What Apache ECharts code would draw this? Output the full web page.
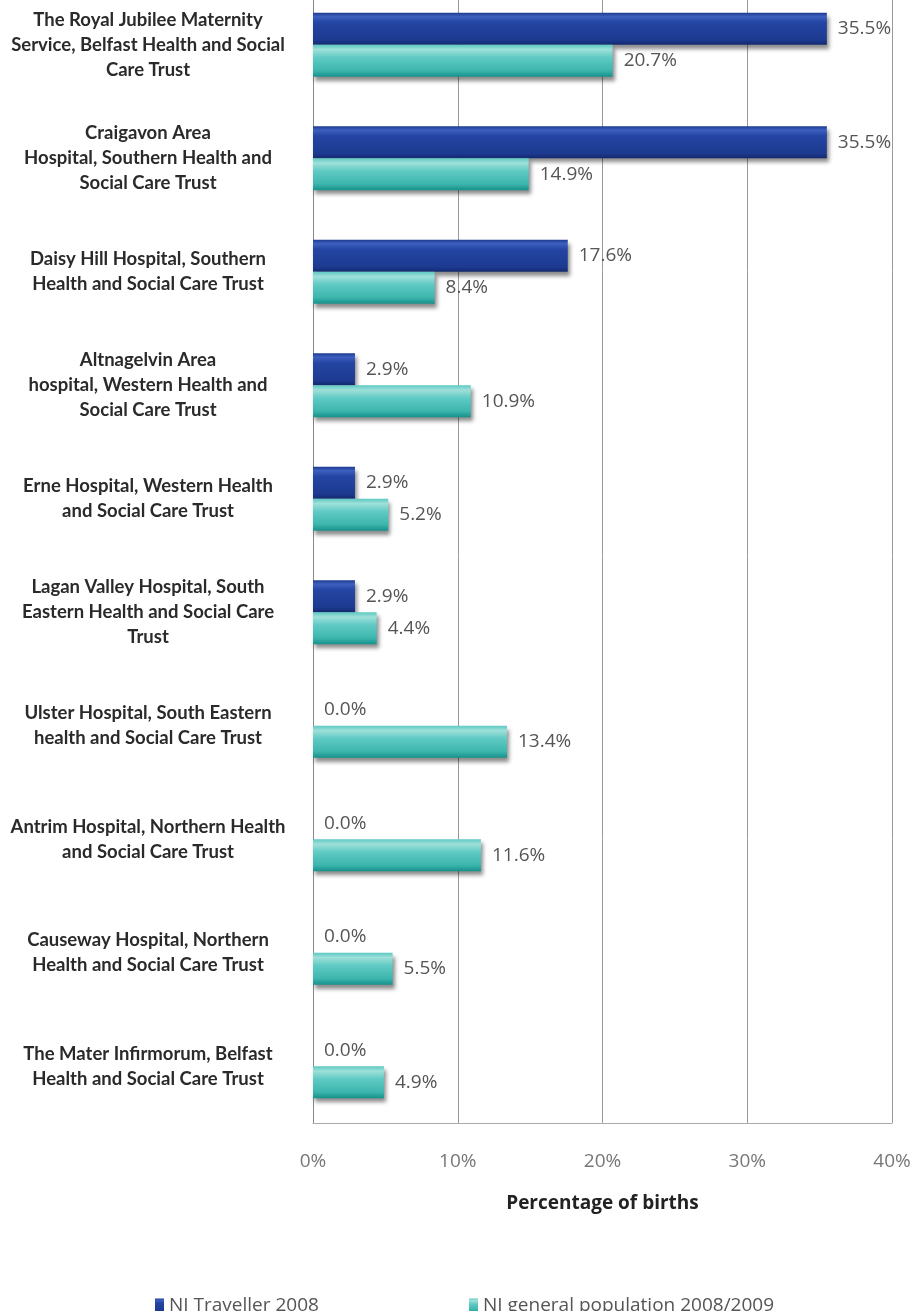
<!DOCTYPE html>
<html>
<head>
<meta charset="utf-8">
<script src="https://cdn.jsdelivr.net/npm/echarts@6/dist/echarts.min.js"></script>
<style>
html,body{margin:0;padding:0;background:#fff;overflow:hidden;}
#wrap{position:relative;width:914px;height:1311px;overflow:hidden;}
#chart{position:absolute;left:0;top:-12px;width:914px;height:1323px;}
</style>
</head>
<body>
<div id="wrap"><div id="chart"></div></div>
<script>
const categories = [
  "The Royal Jubilee Maternity\nService, Belfast Health and Social\nCare Trust",
  "Craigavon Area\nHospital, Southern Health and\nSocial Care Trust",
  "Daisy Hill Hospital, Southern\nHealth and Social Care Trust",
  "Altnagelvin Area\nhospital, Western Health and\nSocial Care Trust",
  "Erne Hospital, Western Health\nand Social Care Trust",
  "Lagan Valley Hospital, South\nEastern Health and Social Care\nTrust",
  "Ulster Hospital, South Eastern\nhealth and Social Care Trust",
  "Antrim Hospital, Northern Health\nand Social Care Trust",
  "Causeway Hospital, Northern\nHealth and Social Care Trust",
  "The Mater Infirmorum, Belfast\nHealth and Social Care Trust"
];
const travellerValues = [35.5, 35.5, 17.6, 2.9, 2.9, 2.9, 0.0, 0.0, 0.0, 0.0];
const generalValues = [20.7, 14.9, 8.4, 10.9, 5.2, 4.4, 13.4, 11.6, 5.5, 4.9];
const seriesNames = ["NI Traveller 2008", "NI general population 2008/2009"];
const xTicks = [0, 10, 20, 30, 40];
const axisTitle = "Percentage of births";

const chart = echarts.init(document.getElementById('chart'), null, {renderer: 'canvas'});

const darkGrad = new echarts.graphic.LinearGradient(0, 0, 0, 1, [
  {offset: 0, color: '#1d3a90'},
  {offset: 0.12, color: '#3d5fbf'},
  {offset: 0.3, color: '#2445a3'},
  {offset: 0.85, color: '#1d3a90'},
  {offset: 1, color: '#14296e'}
]);
const tealGrad = new echarts.graphic.LinearGradient(0, 0, 0, 1, [
  {offset: 0, color: '#5cc9c2'},
  {offset: 0.15, color: '#9fe0da'},
  {offset: 0.4, color: '#5fcac3'},
  {offset: 0.8, color: '#3db6ae'},
  {offset: 1, color: '#15918b'}
]);

const labelStyle = {
  show: true,
  position: 'right',
  distance: 11,
  color: '#555',
  fontFamily: 'Open Sans',
  fontSize: 19,
  formatter: p => p.value.toFixed(1) + '%'
};

chart.setOption({
  backgroundColor: '#ffffff',
  animation: false,
  grid: {left: 313, right: 22, top: 0, bottom: 188, containLabel: false},
  legend: [
    {
      data: [seriesNames[0]], left: 150, top: 1303,
      itemWidth: 9, itemHeight: 14, itemGap: 5,
      icon: 'rect',
      textStyle: {fontFamily: 'Open Sans', fontSize: 19, color: '#555'}
    },
    {
      data: [seriesNames[1]], left: 464, top: 1303,
      itemWidth: 9, itemHeight: 14, itemGap: 5,
      icon: 'rect',
      textStyle: {fontFamily: 'Open Sans', fontSize: 19, color: '#555'}
    }
  ],
  xAxis: {
    type: 'value',
    min: xTicks[0], max: xTicks[xTicks.length - 1], interval: 10,
    axisLine: {show: true, lineStyle: {color: '#aaa', width: 1}},
    axisTick: {show: false},
    splitLine: {show: true, lineStyle: {color: '#999', width: 1}},
    axisLabel: {
      formatter: v => v + '%', margin: 29,
      color: '#777', fontFamily: 'Open Sans', fontSize: 19
    },
    name: axisTitle,
    nameLocation: 'middle',
    nameGap: 71,
    nameTextStyle: {fontFamily: 'Open Sans', fontWeight: 'bold', fontSize: 19, color: '#222'}
  },
  yAxis: {
    type: 'category',
    data: categories,
    inverse: true,
    axisLine: {show: true, lineStyle: {color: '#888', width: 1}},
    axisTick: {show: false},
    axisLabel: {
      align: 'center', margin: 165,
      color: '#2a2a2a', fontFamily: 'Lato', fontWeight: 'bold', fontSize: 18.5,
      lineHeight: 25
    }
  },
  series: [
    {
      name: seriesNames[0], type: 'bar', data: travellerValues,
      barWidth: 32, barGap: '0%',
      itemStyle: {color: darkGrad, shadowColor: 'rgba(0,0,0,0.45)', shadowBlur: 4, shadowOffsetX: 2, shadowOffsetY: 4},
      label: labelStyle
    },
    {
      name: seriesNames[1], type: 'bar', data: generalValues,
      barWidth: 32, barGap: '0%',
      itemStyle: {color: tealGrad, shadowColor: 'rgba(0,0,0,0.45)', shadowBlur: 4, shadowOffsetX: 2, shadowOffsetY: 4},
      label: labelStyle
    }
  ]
});
</script>
</body>
</html>
